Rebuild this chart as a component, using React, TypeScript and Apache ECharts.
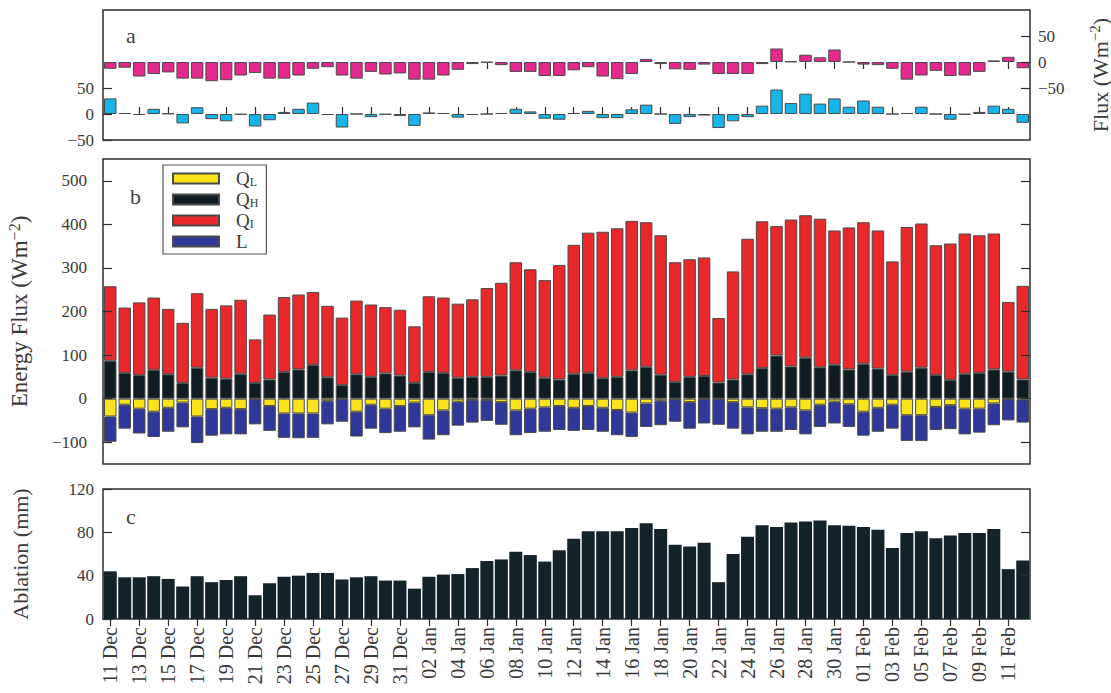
import React, { useEffect, useRef } from 'react';
import * as echarts from 'echarts';

const dates = [
  '11 Dec', '12 Dec', '13 Dec', '14 Dec', '15 Dec', '16 Dec', '17 Dec', '18 Dec', '19 Dec', '20 Dec',
  '21 Dec', '22 Dec', '23 Dec', '24 Dec', '25 Dec', '26 Dec', '27 Dec', '28 Dec', '29 Dec', '30 Dec',
  '31 Dec', '01 Jan', '02 Jan', '03 Jan', '04 Jan', '05 Jan', '06 Jan', '07 Jan', '08 Jan', '09 Jan',
  '10 Jan', '11 Jan', '12 Jan', '13 Jan', '14 Jan', '15 Jan', '16 Jan', '17 Jan', '18 Jan', '19 Jan',
  '20 Jan', '21 Jan', '22 Jan', '23 Jan', '24 Jan', '25 Jan', '26 Jan', '27 Jan', '28 Jan', '29 Jan',
  '30 Jan', '31 Jan', '01 Feb', '02 Feb', '03 Feb', '04 Feb', '05 Feb', '06 Feb', '07 Feb', '08 Feb',
  '09 Feb', '10 Feb', '11 Feb', '12 Feb',
];

// Panel a: upper (magenta, right axis) and lower (cyan, left axis) fluxes
const fluxUpper = [
  -13, -11, -28, -23, -20, -32, -32, -37, -35, -26,
  -21, -32, -32, -26, -13, -10, -26, -32, -19, -24,
  -22, -34, -34, -26, -15, -4, -1, -6, -19, -19,
  -27, -27, -16, -10, -28, -33, -23, 6, -4, -14,
  -15, -5, -23, -23, -23, -4, 26, 1, 14, 9,
  24, 0, -5, -6, -13, -34, -26, -17, -27, -26,
  -19, 3, 10, -12,
];
const fluxLower = [
  30, 2, -2, 10, 1, -18, 13, -10, -14, -1,
  -24, -12, 4, 10, 22, -2, -26, 0, -6, -1,
  -4, -23, 3, 2, -7, -2, 0, 2, 10, 5,
  -9, -11, 2, 6, -8, -8, 9, 18, 0, -19,
  -6, -3, -27, -14, -6, 16, 47, 21, 39, 20,
  30, 14, 26, 14, 0, 2, 14, 0, -11, -1,
  4, 16, 10, -17,
];

// Panel b: energy fluxes
const qH = [
  87, 59, 54, 66, 56, 36, 71, 48, 46, 57,
  36, 44, 61, 67, 77, 49, 31, 56, 50, 58,
  53, 36, 61, 59, 48, 50, 50, 53, 65, 61,
  48, 44, 57, 59, 47, 50, 65, 73, 55, 38,
  50, 52, 37, 44, 56, 70, 99, 74, 94, 72,
  78, 67, 80, 69, 54, 62, 71, 54, 43, 57,
  59, 67, 62, 44,
];
const qI = [
  171, 150, 167, 166, 150, 138, 171, 158, 168, 170,
  100, 149, 172, 172, 168, 164, 155, 169, 166, 152,
  151, 130, 174, 173, 170, 178, 204, 213, 248, 236,
  224, 263, 296, 322, 336, 341, 343, 332, 320, 275,
  270, 272, 148, 248, 311, 337, 297, 337, 327, 341,
  308, 326, 325, 317, 261, 332, 331, 298, 313, 322,
  316, 312, 160, 215,
];
const qL = [
  -41, -14, -23, -30, -21, -9, -41, -24, -21, -24,
  -1, -17, -34, -34, -34, -5, -1, -30, -14, -23,
  -17, -9, -38, -27, -7, -3, -3, -8, -27, -23,
  -20, -17, -21, -17, -21, -26, -32, -11, -5, -1,
  -8, -1, -1, -8, -20, -22, -23, -20, -27, -14,
  -7, -13, -30, -21, -14, -38, -38, -19, -15, -23,
  -23, -11, -1, -2,
];
const lFlux = [
  -58, -55, -57, -58, -55, -57, -61, -61, -61, -58,
  -58, -57, -56, -57, -56, -54, -52, -57, -55, -56,
  -59, -57, -56, -57, -55, -52, -48, -52, -57, -56,
  -56, -55, -53, -55, -55, -58, -56, -54, -56, -52,
  -61, -56, -59, -61, -62, -54, -53, -52, -55, -51,
  -50, -52, -55, -55, -55, -59, -59, -53, -55, -59,
  -55, -50, -49, -53,
];

// Panel c: ablation (mm)
const ablation = [
  44, 38.5, 38.5, 39.5, 37, 30, 39.5, 34, 36, 39.5,
  22, 33, 39, 40, 42.5, 42.5, 36.5, 38.5, 39.5, 35.5,
  35.5, 28, 39, 41, 41.5, 47, 53.5, 55, 62, 59,
  53, 63.5, 74, 81, 81, 81, 84, 88.5, 83, 68.5,
  67, 70.5, 34, 60, 76, 86.5, 85, 89, 90, 91,
  86.5, 86, 85, 82.5, 65.5, 79.5, 81, 74.5, 77, 79.5,
  79.5, 83, 46, 54,
];

const fluxTicks = [-50, 0, 50];
const energyTicks = [-100, 0, 100, 200, 300, 400, 500];
const ablationTicks = [0, 40, 80, 120];
const ablationInnerTicks = [40, 80];

const FONT = '"Liberation Serif", "DejaVu Serif", serif';
const TEXT = '#3a3a3a';
const LINE = '#2e2e2e';

const fmt = (v: number) => (v < 0 ? '\u2212' + Math.abs(v) : String(v));

export default function App() {
  const ref = useRef<HTMLDivElement>(null);

  useEffect(() => {
    if (!ref.current) return;
    const chart = echarts.init(ref.current, undefined, { renderer: 'svg' });

    const gridBase = {
      left: 103,
      right: 81,
      show: true,
      borderColor: LINE,
      borderWidth: 1.5,
      backgroundColor: '#fff',
      containLabel: false,
      outerBoundsMode: 'none',
    };
    const tickStyle = { color: LINE, width: 1.2 };

    const xAxes: any[] = [];
    [0, 1, 2].forEach((g) => {
      xAxes.push({
        type: 'category',
        gridIndex: g,
        data: dates,
        position: 'bottom',
        boundaryGap: true,
        axisLine: { show: false },
        axisTick: { show: true, inside: true, alignWithLabel: true, interval: 1, length: 7, lineStyle: tickStyle },
        axisLabel:
          g === 2
            ? { show: true, interval: 1, rotate: 90, margin: 8, fontSize: 20, fontFamily: FONT, color: TEXT }
            : { show: false },
        splitLine: { show: false },
      });
      xAxes.push({
        type: 'category',
        gridIndex: g,
        data: dates,
        position: 'top',
        boundaryGap: true,
        axisLine: { show: false },
        axisTick: { show: true, inside: true, alignWithLabel: true, interval: 1, length: 7, lineStyle: tickStyle },
        axisLabel: { show: false },
        splitLine: { show: false },
      });
    });

    const yBase = (gridIndex: number, position: 'left' | 'right', min: number, max: number, ticks: number[], showLabels: boolean, margin: number) => ({
      type: 'value',
      gridIndex,
      position,
      min,
      max,
      axisLine: { show: false },
      splitLine: { show: false },
      axisTick: { show: true, inside: true, length: 9, lineStyle: tickStyle, customValues: ticks },
      axisLabel: {
        show: showLabels,
        customValues: ticks,
        formatter: fmt,
        fontSize: 17,
        fontFamily: FONT,
        color: TEXT,
        margin,
      },
      z: 5,
    });

    const nameStyle = (size: number) => ({
      fontFamily: FONT,
      fontSize: size,
      color: TEXT,
      lineHeight: size + 4,
      rich: {
        sup: { fontFamily: FONT, fontSize: Math.round(size * 0.68), color: TEXT, verticalAlign: 'top', lineHeight: Math.round(size * 0.68) },
      },
    });

    const yAxes: any[] = [
      yBase(0, 'left', -50, 200, fluxTicks, true, 9),
      {
        ...yBase(0, 'right', -150, 100, fluxTicks, true, 8),
        name: 'Flux (Wm{sup|\u22122})',
        nameLocation: 'middle',
        nameGap: 57,
        nameMoveOverlap: false,
        nameTextStyle: nameStyle(22),
      },
      {
        ...yBase(1, 'left', -150, 550, energyTicks, true, 16),
        name: 'Energy Flux (Wm{sup|\u22122})',
        nameLocation: 'middle',
        nameGap: 70,
        nameMoveOverlap: false,
        nameTextStyle: nameStyle(23),
      },
      yBase(1, 'right', -150, 550, energyTicks, false, 8),
      {
        ...yBase(2, 'left', 0, 120, ablationTicks, true, 9),
        name: 'Ablation (mm)',
        nameLocation: 'middle',
        nameGap: 70,
        nameMoveOverlap: false,
        nameTextStyle: nameStyle(22),
      },
      yBase(2, 'right', 0, 120, ablationInnerTicks, false, 8),
    ];

    const edge = { borderColor: '#4a4a4a', borderWidth: 1 };

    const legendNames: Record<string, string> = {
      QL: '{sp| }{q|Q}{s|L}',
      QH: '{sp| }{q|Q}{s|H}',
      QI: '{sp| }{q|Q}{s|I}',
      L: '{sp| }{q|L}',
    };

    chart.setOption({
      animation: false,
      backgroundColor: '#fff',
      grid: [
        { ...gridBase, top: 10, height: 130 },
        { ...gridBase, top: 159, height: 305 },
        { ...gridBase, top: 489, height: 130 },
      ],
      xAxis: xAxes,
      yAxis: yAxes,
      legend: {
        data: ['QL', 'QH', 'QI', 'L'],
        orient: 'vertical',
        left: 163,
        top: 165,
        itemWidth: 46,
        itemHeight: 10,
        itemGap: 2,
        padding: [4, 8, 3, 9],
        icon: 'rect',
        selectedMode: false,
        borderColor: '#555',
        borderWidth: 1.2,
        backgroundColor: '#fff',
        formatter: (n: string) => legendNames[n] || n,
        textStyle: {
          fontFamily: FONT,
          color: TEXT,
          fontSize: 19,
          rich: {
            sp: { width: 12, fontSize: 19, fontFamily: FONT },
            q: { fontSize: 19, fontFamily: FONT, color: TEXT, verticalAlign: 'top', lineHeight: 17 },
            s: { fontSize: 12, fontFamily: FONT, color: TEXT, verticalAlign: 'bottom', lineHeight: 12 },
          },
        },
        z: 10,
      },
      graphic: [
        { type: 'text', left: 126, top: 24, style: { text: 'a', font: '22px ' + FONT, fill: '#444' }, z: 10 },
        { type: 'text', left: 130, top: 185, style: { text: 'b', font: '22px ' + FONT, fill: '#444' }, z: 10 },
        { type: 'text', left: 126, top: 505, style: { text: 'c', font: '22px ' + FONT, fill: '#444' }, z: 10 },
      ],
      series: [
        {
          name: 'upper',
          type: 'bar',
          xAxisIndex: 0,
          yAxisIndex: 1,
          data: fluxUpper,
          barGap: '-100%',
          barCategoryGap: '14%',
          itemStyle: { color: '#e5288b', ...edge },
        },
        {
          name: 'lower',
          type: 'bar',
          xAxisIndex: 0,
          yAxisIndex: 0,
          data: fluxLower,
          barGap: '-100%',
          barCategoryGap: '14%',
          itemStyle: { color: '#17b5e9', ...edge },
        },
        {
          name: 'QH',
          type: 'bar',
          stack: 'energy',
          xAxisIndex: 2,
          yAxisIndex: 2,
          data: qH,
          barCategoryGap: '14%',
          itemStyle: { color: '#0f1c22', ...edge },
        },
        {
          name: 'QI',
          type: 'bar',
          stack: 'energy',
          xAxisIndex: 2,
          yAxisIndex: 2,
          data: qI,
          barCategoryGap: '14%',
          itemStyle: { color: '#e8282b', ...edge },
        },
        {
          name: 'QL',
          type: 'bar',
          stack: 'energy',
          xAxisIndex: 2,
          yAxisIndex: 2,
          data: qL,
          barCategoryGap: '14%',
          itemStyle: { color: '#f9e41c', ...edge },
        },
        {
          name: 'L',
          type: 'bar',
          stack: 'energy',
          xAxisIndex: 2,
          yAxisIndex: 2,
          data: lFlux,
          barCategoryGap: '14%',
          itemStyle: { color: '#2f3899', ...edge },
        },
        {
          name: 'ablation',
          type: 'bar',
          xAxisIndex: 4,
          yAxisIndex: 4,
          data: ablation,
          barCategoryGap: '10%',
          itemStyle: { color: '#14222a' },
        },
      ],
    });

    return () => chart.dispose();
  }, []);

  return <div ref={ref} style={{ position: 'absolute', left: 0, top: 0, width: 1111, height: 693 }} />;
}
